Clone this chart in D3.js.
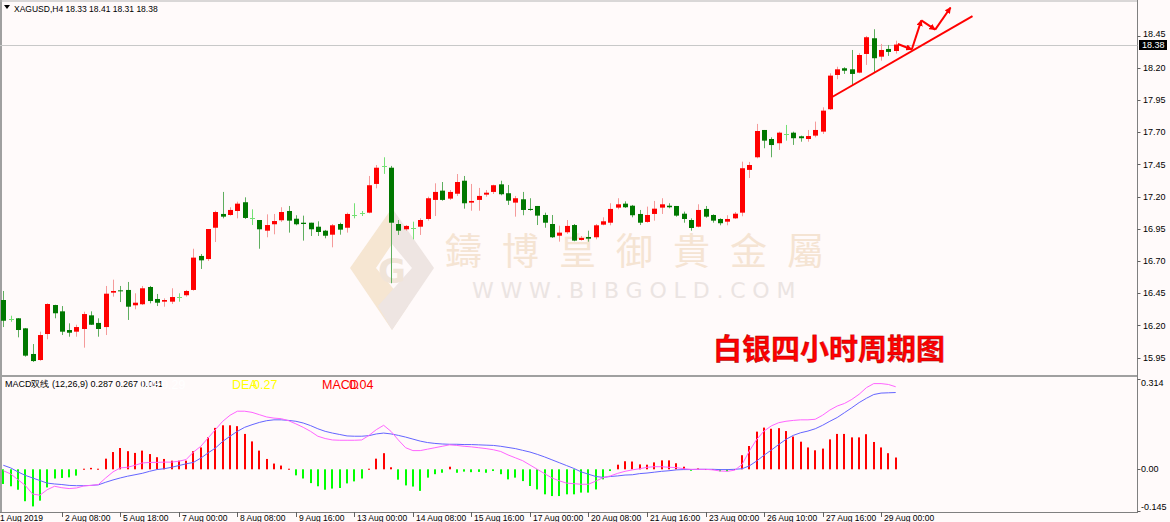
<!DOCTYPE html>
<html><head><meta charset="utf-8">
<script src="https://cdn.jsdelivr.net/npm/d3@7"></script>
<style>
html,body{margin:0;padding:0;background:#fffafa;overflow:hidden;}
svg{display:block;}
</style></head><body>
<svg id="c" width="1170" height="522"></svg>
<script>
const opens = [16.397,16.249,16.255,16.177,15.978,15.931,16.133,16.358,16.309,16.164,16.151,16.172,16.278,16.219,16.187,16.454,16.472,16.475,16.356,16.364,16.498,16.405,16.384,16.384,16.423,16.434,16.475,16.739,16.715,16.958,17.065,17.057,17.088,17.156,17.031,17.018,16.935,16.985,17.016,17.088,17.028,16.997,16.997,16.966,16.935,16.904,16.987,16.958,17.055,17.070,17.075,17.298,17.438,17.424,16.987,16.946,16.958,16.966,17.026,17.174,17.246,17.184,17.222,17.323,17.153,17.174,17.215,17.236,17.295,17.226,17.153,17.179,17.104,17.127,17.057,16.987,16.896,16.923,16.979,16.863,16.886,16.884,16.982,16.997,17.114,17.145,17.129,17.065,17.003,17.065,17.114,17.129,17.127,17.067,17.018,16.966,17.104,17.057,17.026,17.005,17.031,17.075,17.407,17.505,17.717,17.647,17.614,17.686,17.696,17.668,17.647,17.673,17.704,17.878,18.144,18.196,18.188,18.162,18.307,18.429,18.286,18.346,18.33];
const highs = [16.467,16.275,16.257,16.180,16.055,16.151,16.371,16.360,16.350,16.216,16.205,16.306,16.309,16.255,16.506,16.555,16.506,16.537,16.449,16.506,16.506,16.444,16.410,16.488,16.449,16.475,16.795,16.754,16.948,17.090,17.236,17.117,17.160,17.194,17.101,17.018,17.062,17.065,17.117,17.127,17.055,17.052,16.997,17.008,16.941,16.987,16.997,17.075,17.148,17.088,17.360,17.445,17.505,17.438,17.018,16.979,17.005,17.031,17.199,17.303,17.313,17.251,17.375,17.360,17.298,17.267,17.251,17.292,17.323,17.290,17.205,17.236,17.187,17.127,17.075,17.057,16.974,17.018,16.987,16.894,16.935,16.987,17.039,17.148,17.187,17.163,17.135,17.096,17.122,17.166,17.187,17.148,17.127,17.083,17.031,17.140,17.127,17.062,17.031,17.055,17.080,17.471,17.469,17.764,17.717,17.660,17.704,17.756,17.704,17.673,17.717,17.782,17.893,18.157,18.208,18.204,18.338,18.313,18.447,18.499,18.385,18.377,18.41];
const lows = [16.187,16.228,16.107,15.957,15.916,15.925,16.092,16.255,16.125,16.112,16.112,16.027,16.203,16.112,16.125,16.423,16.381,16.242,16.325,16.358,16.371,16.350,16.345,16.366,16.384,16.423,16.469,16.638,16.700,16.847,17.031,17.052,17.031,17.026,16.979,16.795,16.884,16.907,17.003,16.920,16.977,16.858,16.894,16.894,16.876,16.806,16.904,16.920,17.031,17.049,17.070,17.264,17.376,16.527,16.902,16.935,16.868,16.902,17.013,17.049,17.168,17.174,17.205,17.106,17.090,17.090,17.199,17.220,17.210,17.135,17.044,17.055,17.090,16.979,16.958,16.879,16.850,16.910,16.853,16.858,16.850,16.868,16.977,16.977,17.101,17.111,17.039,16.979,16.997,17.013,17.065,17.109,17.044,16.997,16.935,16.961,17.036,16.997,16.977,16.977,17.026,17.047,17.344,17.497,17.575,17.505,17.562,17.634,17.601,17.626,17.626,17.660,17.686,17.872,18.111,18.152,18.066,18.157,18.222,18.165,18.255,18.292,18.31];
const closes = [16.236,16.249,16.164,15.965,15.923,16.125,16.366,16.294,16.151,16.143,16.187,16.288,16.205,16.172,16.446,16.467,16.465,16.345,16.376,16.488,16.389,16.376,16.397,16.420,16.423,16.467,16.726,16.705,16.948,17.080,17.044,17.096,17.145,17.034,17.031,16.946,16.979,17.010,17.080,17.013,16.985,16.987,16.946,16.925,16.896,16.977,16.943,17.065,17.055,17.070,17.288,17.424,17.438,16.997,16.935,16.972,16.958,17.018,17.187,17.236,17.174,17.236,17.313,17.148,17.166,17.205,17.230,17.288,17.218,17.168,17.187,17.096,17.096,17.052,16.997,16.884,16.920,16.972,16.858,16.879,16.873,16.977,17.008,17.104,17.140,17.117,17.055,16.997,17.057,17.106,17.140,17.117,17.052,17.026,16.956,17.096,17.044,17.013,16.993,17.026,17.067,17.420,17.445,17.709,17.634,17.600,17.696,17.686,17.653,17.653,17.670,17.717,17.867,18.139,18.188,18.177,18.152,18.299,18.437,18.274,18.338,18.323,18.38];

const difLine = [-0.005,-0.016,-0.036,-0.056,-0.086,-0.090,-0.071,-0.059,-0.064,-0.067,-0.065,-0.058,-0.056,-0.053,-0.030,-0.009,0.005,0.007,0.014,0.022,0.024,0.024,0.025,0.025,0.028,0.034,0.060,0.080,0.109,0.138,0.167,0.188,0.202,0.202,0.198,0.190,0.182,0.178,0.176,0.169,0.158,0.146,0.132,0.115,0.107,0.102,0.101,0.101,0.101,0.102,0.118,0.138,0.153,0.132,0.102,
 0.075,0.065,0.065,0.070,0.075,0.080,0.085,0.083,0.080,0.078,0.075,0.072,0.068,0.062,0.050,0.040,0.030,0.015,0.000,-0.015,-0.030,-0.040,-0.048,-0.050,
 -0.052,-0.052,-0.041,-0.029,-0.023,-0.014,-0.007,-0.002,0.002,0.007,0.009,0.009,0.007,0.006,0.002,0.000,0.000,0.000,-0.002,-0.006,-0.007,-0.003,0.017,0.064,0.104,0.133,0.151,0.162,0.167,0.170,0.172,0.172,0.174,0.188,0.206,0.220,0.229,0.243,0.261,0.284,0.298,0.298,0.295,0.287];
const deaLine = [0.014,0.005,-0.009,-0.021,-0.030,-0.039,-0.048,-0.051,-0.053,-0.056,-0.057,-0.057,-0.056,-0.054,-0.045,-0.037,-0.030,-0.024,-0.019,-0.014,-0.007,-0.001,0.002,0.007,0.013,0.019,0.024,0.039,0.057,0.074,0.097,0.115,0.132,0.146,0.155,0.163,0.169,0.172,0.172,0.170,0.167,0.161,0.152,0.141,0.132,0.126,0.121,0.116,0.115,0.115,0.117,0.123,0.126,0.123,0.118,
 0.112,0.105,0.098,0.093,0.090,0.088,0.087,0.087,0.086,0.086,0.085,0.084,0.083,0.080,0.076,0.072,0.066,0.060,0.052,0.043,0.033,0.023,0.013,0.003,
 -0.009,-0.017,-0.025,-0.028,-0.025,-0.023,-0.020,-0.019,-0.015,-0.013,-0.010,-0.007,-0.005,-0.002,-0.001,-0.001,0.000,0.000,0.000,-0.001,-0.001,0.000,0.002,0.012,0.029,0.049,0.067,0.086,0.104,0.118,0.127,0.133,0.141,0.153,0.167,0.180,0.197,0.214,0.232,0.247,0.260,0.265,0.266,0.267];
const macdHist = [-0.051,-0.059,-0.071,-0.111,-0.129,-0.109,-0.063,-0.032,-0.030,-0.028,-0.022,0.002,0.005,0.002,0.037,0.060,0.074,0.063,0.057,0.065,0.053,0.042,0.036,0.030,0.030,0.030,0.063,0.076,0.111,0.144,0.153,0.153,0.150,0.123,0.097,0.065,0.036,0.020,0.013,0.002,-0.021,-0.032,-0.048,-0.059,-0.071,-0.067,-0.065,-0.049,-0.042,-0.032,0.002,0.037,0.056,0.007,-0.036,
 -0.056,-0.060,-0.075,-0.029,-0.017,-0.012,0.009,-0.012,-0.008,-0.010,-0.009,-0.012,-0.006,-0.017,-0.035,-0.029,-0.041,-0.058,-0.070,-0.087,-0.093,-0.093,-0.087,-0.087,
 -0.081,-0.081,-0.070,-0.035,-0.006,0.016,0.028,0.027,0.017,0.016,0.024,0.031,0.031,0.021,0.009,-0.005,0.003,0.001,0.001,-0.007,-0.007,0.001,0.049,0.081,0.131,0.145,0.141,0.143,0.133,0.114,0.096,0.076,0.066,0.072,0.104,0.123,0.123,0.111,0.111,0.122,0.095,0.076,0.056,0.041];

const priceTicks = [15.95,16.20,16.45,16.70,16.95,17.20,17.45,17.70,17.95,18.20,18.45];
const macdTicks = [0.314,0.00,-0.145];
const macdTickLabels = ["0.314","0.00","-0.145"];
const timeLabels = ["1 Aug 2019","2 Aug 08:00","5 Aug 18:00","7 Aug 00:00","8 Aug 08:00","9 Aug 16:00","13 Aug 00:00","14 Aug 08:00","15 Aug 16:00","17 Aug 00:00","20 Aug 08:00","21 Aug 16:00","23 Aug 00:00","26 Aug 10:00","27 Aug 16:00","29 Aug 00:00"];
const timeLabelBars = [0,8,16,24,32,40,48,56,64,72,80,88,96,104,112,120];
const lastPrice = 18.38;
const trendLine = [[113.25,17.971],[132.5,18.60]];
const arrowPath = [[122.3,18.384],[124.2,18.342],[125.5,18.568],[127.4,18.496],[129.5,18.668]];

const W = 1170, H = 522;
const plotRight = 1137.5;
const svg = d3.select("#c");
const FONT = "'Liberation Sans', Arial, sans-serif";

const x = d3.scaleLinear().domain([0, 122]).range([3.3, 895.7]);
const y = d3.scaleLinear().domain([15.807, 18.726]).range([376, 0]);
const ym = d3.scaleLinear().domain([-0.145, 0.314]).range([511, 379]);

svg.append("rect").attr("width", W).attr("height", H).attr("fill", "#fffafa");

const defs = svg.append("defs");
defs.append("clipPath").attr("id","mainClip").append("rect").attr("x",0).attr("y",0).attr("width",plotRight).attr("height",373);
defs.append("clipPath").attr("id","macdClip").append("rect").attr("x",0).attr("y",378).attr("width",plotRight).attr("height",134);

// ---- watermark ----
const wm = svg.append("g").attr("clip-path","url(#mainClip)");
const logo = wm.append("g");
logo.append("path").attr("d","M392,208 L350,268 L392,330 L408,306 L376,268 L392,244 Z").attr("fill","#f6e6d2");
logo.append("path").attr("d","M392,208 L434,268 L392,330 L378,306 L412,268 L392,244 Z").attr("fill","#eee5e2");
logo.append("text").attr("x",392).attr("y",283).attr("text-anchor","middle").attr("font-family","'DejaVu Sans', sans-serif").attr("font-weight","bold").attr("font-size",34).attr("fill","#f0e4d8").text("G");
wm.append("text").attr("x",445).attr("y",265).attr("font-family","'Noto Sans CJK TC','Noto Sans CJK SC',sans-serif").attr("font-size",37).attr("letter-spacing","20px").attr("fill","#f5e4d3").text("鑄博皇御貴金屬");
wm.append("text").attr("x",472).attr("y",298).attr("font-family","'DejaVu Sans', sans-serif").attr("font-size",22).attr("letter-spacing","6.8px").attr("fill","#ebe4e2").text("WWW.BIBGOLD.COM");

// ---- borders ----
svg.append("line").attr("x1",1).attr("x2",1).attr("y1",0).attr("y2",513).attr("stroke","#a0a0a0").attr("stroke-width",2);
svg.append("line").attr("x1",0).attr("x2",plotRight).attr("y1",1).attr("y2",1).attr("stroke","#b4b4b4");
svg.append("line").attr("x1",0).attr("x2",plotRight).attr("y1",376).attr("y2",376).attr("stroke","#a0a0a0").attr("stroke-width",2);
svg.append("line").attr("x1",plotRight).attr("x2",plotRight).attr("y1",0).attr("y2",513).attr("stroke","#808080");
svg.append("line").attr("x1",0).attr("x2",plotRight).attr("y1",512.5).attr("y2",512.5).attr("stroke","#808080");

// current price line
svg.append("line").attr("x1",0).attr("x2",plotRight).attr("y1",Math.round(y(lastPrice))+0.5).attr("y2",Math.round(y(lastPrice))+0.5).attr("stroke","#c8c8c8");

// ---- candles ----
const data = d3.range(opens.length).map(i => ({i, o:opens[i], h:highs[i], l:lows[i], c:closes[i]}));
const cg = svg.append("g").attr("clip-path","url(#mainClip)");
const kind = d => Math.abs(d.o - d.c) < 0.0015 ? "doji" : (d.c > d.o ? "up" : "down");
const wickColor = {up:"#f59a9a", down:"#5fae5f", doji:"#74e074"};
const bodyColor = {up:"#ff0000", down:"#007800", doji:"#74e074"};
cg.selectAll("line.wick").data(data).join("line")
  .attr("x1", d => Math.round(x(d.i))+0.5).attr("x2", d => Math.round(x(d.i))+0.5)
  .attr("y1", d => y(d.h)).attr("y2", d => y(d.l))
  .attr("stroke", d => wickColor[kind(d)]).attr("stroke-width",1);
cg.selectAll("rect.body").data(data.filter(d => kind(d) !== "doji")).join("rect")
  .attr("x", d => Math.round(x(d.i))-2).attr("width",5)
  .attr("y", d => y(Math.max(d.o,d.c))).attr("height", d => Math.max(1, Math.abs(y(d.o)-y(d.c))))
  .attr("fill", d => bodyColor[kind(d)]);
cg.selectAll("line.doji").data(data.filter(d => kind(d) === "doji")).join("line")
  .attr("x1", d => Math.round(x(d.i))-2).attr("x2", d => Math.round(x(d.i))+3)
  .attr("y1", d => Math.round(y(d.o))+0.5).attr("y2", d => Math.round(y(d.o))+0.5)
  .attr("stroke", "#74e074");

// ---- annotations ----
const ann = svg.append("g").attr("clip-path","url(#mainClip)");
defs.append("marker").attr("id","ah").attr("viewBox","0 0 10 10").attr("refX",9).attr("refY",5)
  .attr("markerWidth",3.2).attr("markerHeight",3.2).attr("orient","auto")
  .append("path").attr("d","M0,0 L10,5 L0,10 Z").attr("fill","#ff0000");
ann.append("line").attr("x1",x(trendLine[0][0])).attr("y1",y(trendLine[0][1])).attr("x2",x(trendLine[1][0])).attr("y2",y(trendLine[1][1]))
  .attr("stroke","#ff0000").attr("stroke-width",2);
for (let k=0;k<arrowPath.length-1;k++){
  ann.append("line").attr("x1",x(arrowPath[k][0])).attr("y1",y(arrowPath[k][1])).attr("x2",x(arrowPath[k+1][0])).attr("y2",y(arrowPath[k+1][1]))
    .attr("stroke","#ff0000").attr("stroke-width",2).attr("marker-end","url(#ah)");
}
svg.append("text").attr("x",713).attr("y",360).attr("font-family","'Noto Sans CJK SC',sans-serif").attr("font-weight","bold")
  .attr("font-size",29).attr("fill","#ff0000").attr("stroke","#a00000").attr("stroke-width",0.4).text("白银四小时周期图");

// ---- price axis ----
const pa = svg.append("g");
pa.selectAll("line").data(priceTicks).join("line").attr("x1",plotRight).attr("x2",plotRight+3)
  .attr("y1", d => Math.round(y(d))+0.5).attr("y2", d => Math.round(y(d))+0.5).attr("stroke","#606060");
pa.selectAll("text").data(priceTicks).join("text").attr("x",1143).attr("y", d => y(d) + (d===18.45 ? -1.5 : 0)).attr("dy","0.35em")
  .attr("font-family",FONT).attr("font-size",9).attr("fill","#000").text(d => d.toFixed(2));
const ly = Math.round(y(lastPrice));
svg.append("rect").attr("x",1139).attr("y",ly-5).attr("width",28).attr("height",10).attr("fill","#000");
svg.append("text").attr("x",1142).attr("y",ly).attr("dy","0.35em").attr("font-family",FONT).attr("font-size",9).attr("fill","#fff").text(lastPrice.toFixed(2));

// title
svg.append("path").attr("d","M4,5 L10,5 L7,9 Z").attr("fill","#000");
svg.append("text").attr("x",14).attr("y",9).attr("dy","0.35em").attr("font-family",FONT).attr("font-size",8.5).attr("fill","#000")
  .text("XAGUSD,H4  18.33 18.41 18.31 18.38");

// ---- MACD ----
const mg = svg.append("g").attr("clip-path","url(#macdClip)");
mg.selectAll("rect").data(macdHist).join("rect")
  .attr("x",(d,i)=>Math.round(x(i))-1).attr("width",2)
  .attr("y", d => ym(Math.max(d,0))).attr("height", d => Math.max(1, Math.abs(ym(d)-ym(0))))
  .attr("fill", d => d >= 0 ? "#ff0000" : "#00ff00");
mg.append("path").datum(deaLine).attr("d", d3.line().x((d,i)=>x(i)).y(d=>ym(d)))
  .attr("fill","none").attr("stroke","#6464ff").attr("stroke-width",1);
mg.append("path").datum(difLine).attr("d", d3.line().x((d,i)=>x(i)).y(d=>ym(d)))
  .attr("fill","none").attr("stroke","#ff64ff").attr("stroke-width",1);

svg.append("text").attr("x",5).attr("y",384).attr("dy","0.35em").attr("font-family",FONT).attr("font-size",9).attr("fill","#000")
  .text("MACD双线 (12,26,9) 0.287 0.267 0.041");
const lbl = (t,xx,col) => svg.append("text").attr("x",xx).attr("y",385).attr("dy","0.35em").attr("font-family",FONT).attr("font-size",12.5).attr("fill",col).text(t);
lbl("DIF0.29",141,"#ffffff");
lbl("DEA",232,"#ffff00"); lbl("0.27",253,"#ffff00");
lbl("MACD",322,"#ff0000"); lbl("0.04",349,"#ff0000");

const ma = svg.append("g");
ma.selectAll("line").data(macdTicks).join("line").attr("x1",plotRight).attr("x2",plotRight+3)
  .attr("y1", d => Math.round(ym(d))+0.5).attr("y2", d => Math.round(ym(d))+0.5).attr("stroke","#606060");
ma.selectAll("text").data(macdTicks).join("text").attr("x",1141).attr("y",(d,i)=> ym(d) + (i===0?4:(i===2?-4:0))).attr("dy","0.35em")
  .attr("font-family",FONT).attr("font-size",9).attr("fill","#000").text((d,i)=>macdTickLabels[i]);

// ---- time axis ----
const ta = svg.append("g");
ta.selectAll("line").data(timeLabelBars.slice(1)).join("line")
  .attr("x1", d => Math.round(x(d))+0.5).attr("x2", d => Math.round(x(d))+0.5).attr("y1",512).attr("y2",517).attr("stroke","#606060");
ta.selectAll("text").data(timeLabelBars).join("text")
  .attr("x",(d,i)=> i===0 ? 0 : Math.round(x(d))+3).attr("y",521)
  .attr("font-family",FONT).attr("font-size",8.5).attr("fill","#000").text((d,i)=>timeLabels[i]);
</script>
</body></html>
